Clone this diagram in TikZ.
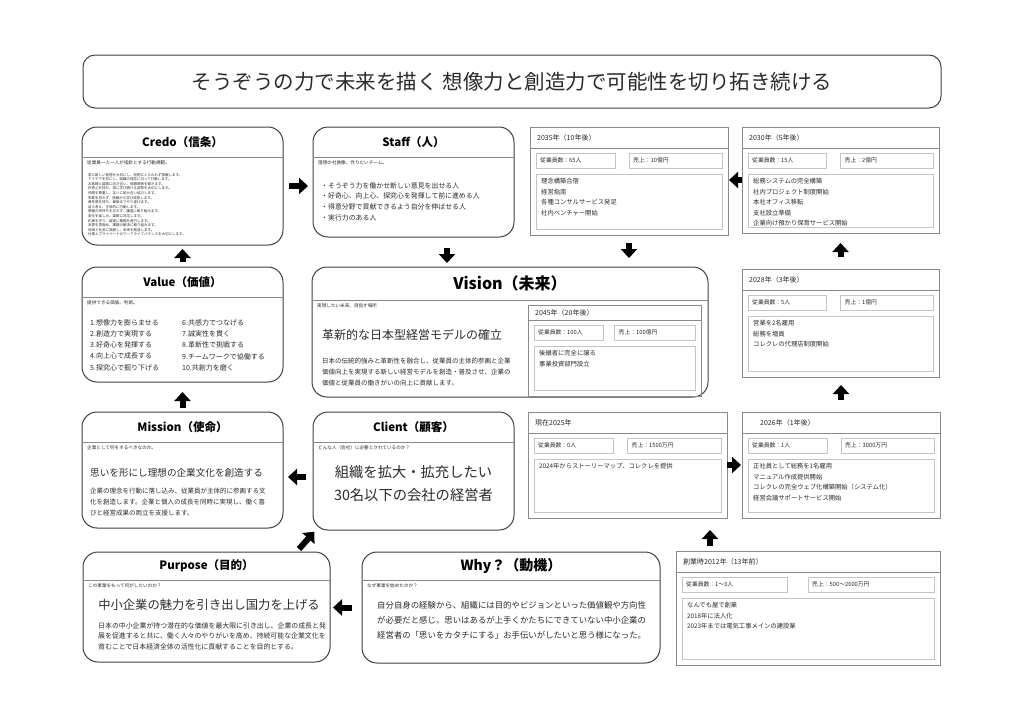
\documentclass[tikz,border=0pt]{standalone}
\usepackage{fontspec}
\setmainfont{Noto Sans CJK JP}
\usetikzlibrary{arrows.meta}

\definecolor{framegray}{HTML}{3F3F3F}
\definecolor{rulegray}{HTML}{8A8A8A}
\definecolor{boxgray}{HTML}{C4C4C4}
\definecolor{inkgray}{HTML}{2B2B2B}

\tikzset{
  card/.style={draw=framegray, line width=1pt, rounded corners=15pt,
    anchor=north west, inner sep=0pt, outer sep=0pt},
  headrule/.style={draw=rulegray, line width=0.8pt},
  cardtitle/.style={font=\bfseries\fontsize{11.5}{13}\selectfont, inner sep=0pt},
  captiontext/.style={font=\fontsize{4.6}{6}\selectfont, text=inkgray,
    anchor=west, inner sep=0pt},
  bodytext/.style={font=\fontsize{6.5}{11}\selectfont, text=inkgray,
    anchor=north west, align=left, inner sep=0pt},
  leadtext/.style={font=\fontsize{12}{14}\selectfont, text=inkgray, inner sep=0pt},
  yearframe/.style={draw=rulegray, line width=0.9pt, anchor=north west,
    inner sep=0pt, outer sep=0pt},
  yearrule/.style={draw=rulegray, line width=0.9pt},
  numbox/.style={draw=boxgray, line width=0.7pt, anchor=north west,
    minimum height=15pt, inner sep=0pt, outer sep=0pt},
  yeartitle/.style={font=\fontsize{7}{8}\selectfont, text=inkgray,
    anchor=west, inner sep=0pt},
  numtext/.style={font=\fontsize{5.8}{7}\selectfont, text=inkgray,
    anchor=west, inner sep=0pt},
  itemtext/.style={font=\fontsize{6.3}{10.5}\selectfont, text=inkgray,
    anchor=north west, align=left, inner sep=0pt},
  blockarrow/.style={line width=6pt, -{Triangle[length=9pt,width=16pt]}},
}

% card: name, x, y, width, height, rule depth, title, caption
\newcommand{\mapcard}[8]{%
  \node[card, minimum width=#4pt, minimum height=#5pt] (#1) at (#2,#3) {};
  \draw[headrule] (#2,{#3+#6}) -- ({#2+#4},{#3+#6});
  \node[cardtitle] (#1-title) at ({#2+#4/2},{#3+#6/2}) {#7};
  \node[captiontext] (#1-caption) at ({#2+5},{#3+#6+6}) {#8};
}

% year box: name, x, y, width, height, title, staff, sales, items
\def\yhead{21}
\newcommand{\yearbox}[9]{%
  \node[yearframe, minimum width=#4pt, minimum height=#5pt] (#1) at (#2,#3) {};
  \draw[yearrule] (#2,{#3+\yhead}) -- ({#2+#4},{#3+\yhead});
  \node[yeartitle] (#1-title) at ({#2+7},{#3+\yhead/2+0.5}) {#6};
  \node[numbox, minimum width={0.4*#4*1pt}] (#1-staff) at ({#2+6},{#3+\yhead+5}) {};
  \node[numtext] (#1-staff-text) at ([xshift=4pt]#1-staff.west) {#7};
  \node[numbox, minimum width={(0.5*#4-6)*1pt}] (#1-sales) at ({#2+#4/2},{#3+\yhead+5}) {};
  \node[numtext] (#1-sales-text) at ([xshift=4pt]#1-sales.west) {#8};
  \node[numbox, minimum width={(#4-12)*1pt}, minimum height={(#5-\yhead-32)*1pt}]
    (#1-list) at ({#2+6},{#3+\yhead+26}) {};
  \node[itemtext] (#1-items) at ([shift={(5pt,-4pt)}]#1-list.north west) {#9};
}

\begin{document}
\begin{tikzpicture}[x=1pt, y=-1pt]
\fill[white] (0,0) rectangle (1024,724);
\useasboundingbox (0,0) rectangle (1024,724);

% banner
\node[draw=framegray, line width=1pt, rounded corners=12pt, minimum width=858pt,
  minimum height=53pt, font=\fontsize{20.5}{24}\selectfont, text=inkgray]
  (banner) at (512,81.5) {そうぞうの力で未来を描く 想像力と創造力で可能性を切り拓き続ける};

% left column and centre cards
\mapcard{credo}{82}{127}{201}{118}{30}{Credo（信条）}{従業員一人一人が指針とする行動規範。}
\node[bodytext, font=\fontsize{3.5}{4.6}\selectfont] (credo-list) at (88,173) {%
  常に新しい発想を大切にし、前例にとらわれず挑戦します。\\
  アイデアを形にし、組織の理念に沿って行動します。\\
  お客様と誠実に向き合い、信頼関係を築きます。\\
  好奇心を持ち、常に学び続ける姿勢を大切にします。\\
  仲間を尊重し、互いに助け合い協力します。\\
  失敗を恐れず、挑戦から学び成長します。\\
  責任感を持ち、最後までやり遂げます。\\
  自ら考え、主体的に行動します。\\
  感謝の気持ちを忘れず、謙虚に取り組みます。\\
  変化を楽しみ、柔軟に対応します。\\
  約束を守り、誠実に業務を遂行します。\\
  本質を見極め、課題の解決に取り組みます。\\
  地域と社会に貢献し、未来を創造します。\\
  仕事とプライベートのワークライフバランスを大切にします。};

\mapcard{staff}{313}{127}{201}{110}{30}{Staff（人）}{理想の社員像、作りたいチーム。}
\node[bodytext, font=\fontsize{6.9}{10.7}\selectfont] (staff-list) at (321,182) {%
  ・そうぞう力を働かせ新しい意見を出せる人\\
  ・好奇心、向上心、探究心を発揮して前に進める人\\
  ・得意分野で貢献できるよう自分を伸ばせる人\\
  ・実行力のある人};

\mapcard{value}{82}{267}{201}{115}{30}{Value（価値）}{提供できる価値、判断。}
\node[bodytext, font=\fontsize{7}{11.3}\selectfont] (value-left) at (90,319) {%
  1.想像力を膨らませる\\2.創造力で実現する\\3.好奇心を発揮する\\
  4.向上心で成長する\\5.探究心で掘り下げる};
\node[bodytext, font=\fontsize{7}{11.3}\selectfont] (value-right) at (182,319) {%
  6.共感力でつなげる\\7.誠実性を貫く\\8.革新性で挑戦する\\
  9.チームワークで協働する\\10.共創力を磨く};

\mapcard{vision}{312}{267}{396}{130}{33}{{\fontsize{16}{18}\selectfont Vision（未来）}}{実現したい未来、目指す場所}
\node[leadtext, anchor=west] (vision-lead) at (322,335) {革新的な日本型経営モデルの確立};
\node[bodytext] (vision-body) at (322,358) {%
  日本の伝統的強みと革新性を融合し、従業員の主体的参画と企業\\
  価値向上を実現する新しい経営モデルを創造・普及させ、企業の\\
  価値と従業員の働きがいの向上に貢献します。};
\begin{scope}
  \def\yhead{15}
  \yearbox{y2045}{528}{305}{173}{91}{2045年（20年後）}{従業員数：100人}{売上：100億円}{後継者に完全に譲る\\事業投資部門設立}
\end{scope}

\mapcard{mission}{82}{412}{201}{116}{30}{Mission（使命）}{企業として何をするべきなのか。}
\node[leadtext, anchor=west, font=\fontsize{9.6}{12}\selectfont] (mission-lead) at (90,473) {思いを形にし理想の企業文化を創造する};
\node[bodytext] (mission-body) at (90,488) {%
  企業の理念を行動に落し込み、従業員が主体的に参画する文\\
  化を創造します。企業と個人の成長を同時に実現し、働く喜\\
  びと経営成果の両立を支援します。};

\mapcard{client}{313}{412}{201}{118}{30}{Client（顧客）}{どんな人（会社）に必要とされているのか？}
\node[leadtext, align=center, font=\fontsize{14.3}{23}\selectfont] (client-lead) at (413.5,483.5) {組織を拡大・拡充したい\\30名以下の会社の経営者};

\mapcard{purpose}{83}{552}{247}{110}{28}{Purpose（目的）}{この事業をもって何がしたいのか？}
\node[leadtext, font=\fontsize{12.3}{14}\selectfont] (purpose-lead) at (209,605) {中小企業の魅力を引き出し国力を上げる};
\node[bodytext, font=\fontsize{6.9}{10.5}\selectfont] (purpose-body) at (98,622) {%
  日本の中小企業が持つ潜在的な価値を最大限に引き出し、企業の成長と発\\
  展を促進すると共に、働く人々のやりがいを高め、持続可能な企業文化を\\
  育むことで日本経済全体の活性化に貢献することを目的とする。};

\mapcard{why}{362}{552}{298}{111}{28}{{\fontsize{14}{16}\selectfont Why？（動機）}}{なぜ事業を始めたのか？}
\node[bodytext, font=\fontsize{8.4}{15}\selectfont] (why-body) at (377,601) {%
  自分自身の経験から、組織には目的やビジョンといった価値観や方向性\\
  が必要だと感じ、思いはあるが上手くかたちにできていない中小企業の\\
  経営者の「思いをカタチにする」お手伝いがしたいと思う様になった。};

% timeline
\yearbox{y2035}{530}{127}{198}{108}{2035年（10年後）}{従業員数：65人}{売上：10億円}{理念構築合宿\\経営指南\\各種コンサルサービス発足\\社内ベンチャー開始}
\yearbox{y2030}{742}{127}{197}{106}{2030年（5年後）}{従業員数：15人}{売上：2億円}{総務システムの完全構築\\社内プロジェクト制度開始\\本社オフィス移転\\支社設立準備\\企業向け預かり保育サービス開始}
\yearbox{y2028}{742}{269}{197}{108}{2028年（3年後）}{従業員数：5人}{売上：1億円}{営業を2名雇用\\総務を増員\\コレクレの代理店制度開始}
\yearbox{y2025}{528}{412}{199}{106}{現在2025年}{従業員数：0人}{売上：1500万円}{2024年からストーリーマップ、コレクレを提供}
\yearbox{y2026}{742}{412}{198}{106}{\hspace*{11pt}2026年（1年後）}{従業員数：1人}{売上：3000万円}{正社員として総務を1名雇用\\マニュアル作成提供開始\\コレクレの完全ウェブ化構築開始（システム化）\\経営会議サポートサービス開始}
\yearbox{founding}{676}{551}{264}{114}{創業時2012年（13年前）}{従業員数：1～3人}{売上：500～2600万円}{なんでも屋で創業\\2018年に法人化\\2023年までは電気工事メインの建設業}

% flow arrows
\draw[blockarrow, shorten <=10pt, shorten >=3pt] (why.west) -- (why.west -| purpose.east);
\draw[blockarrow, shorten >=1pt] ([xshift=-31pt,yshift=3pt]purpose.north east) -- ([xshift=2pt,yshift=-1pt]client.south west);
\draw[blockarrow, shorten <=7pt, shorten >=5pt] ([yshift=-6pt]client.west) -- ([yshift=-6pt]client.west -| mission.east);
\draw[blockarrow, shorten <=4pt, shorten >=10pt] (mission.north) -- (mission.north |- value.south);
\draw[blockarrow, shorten <=5pt, shorten >=4pt] (value.north) -- (value.north |- credo.south);
\draw[blockarrow, shorten <=6pt, shorten >=5pt] (credo.east) -- (credo.east -| staff.west);
\draw[blockarrow, shorten <=11pt, shorten >=4pt] ([xshift=33.5pt]staff.south) -- ([xshift=33.5pt]staff.south |- vision.north);
\draw[blockarrow, shorten <=8pt, shorten >=9pt] (y2035.south) -- (y2035.south |- vision.north);
\draw[blockarrow, shorten >=1pt] (y2030.west) -- (y2030.west -| y2035.east);
\draw[blockarrow, shorten <=12pt, shorten >=10pt] (y2028.north) -- (y2028.north |- y2030.south);
\draw[blockarrow, shorten <=12pt, shorten >=8pt] (y2026.north) -- (y2026.north |- y2028.south);
\draw[blockarrow, shorten >=1pt] (y2025.east) -- (y2025.east -| y2026.west);
\draw[blockarrow, shorten <=5pt, shorten >=12pt] ([xshift=34pt]founding.north west) -- ([xshift=34pt]founding.north west |- y2025.south);
\end{tikzpicture}
\end{document}
